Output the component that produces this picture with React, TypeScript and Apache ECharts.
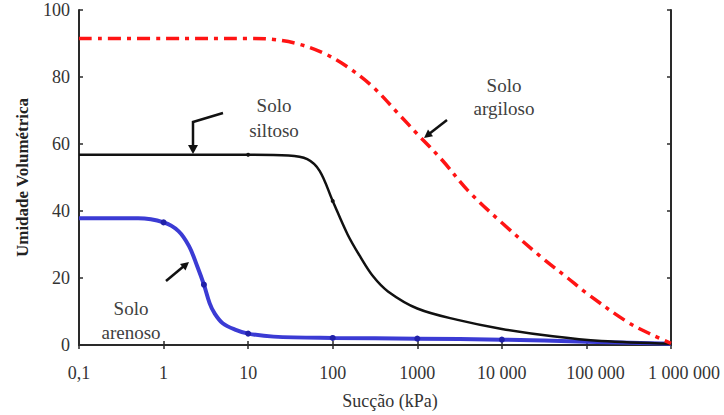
import React, { useEffect, useRef } from "react";
import * as echarts from "echarts";

const xTickLabels: Record<string, string> = {
  "-1": "0,1",
  "0": "1",
  "1": "10",
  "2": "100",
  "3": "1000",
  "4": "10 000",
  "5": "100 000",
  "6": "1 000 000",
};
const yTicks = [0, 20, 40, 60, 80, 100];

// Solo argiloso (red dash-dot)
const argilosoX = [0.1, 1, 10, 20, 40, 80, 150, 300, 600, 1000, 2000, 4000, 10000, 30000, 60000, 100000, 300000, 600000, 1000000];
const argilosoY = [91.5, 91.5, 91.5, 91.2, 89.8, 87, 83, 77, 69, 63, 55, 46, 36.5, 26, 20, 15.5, 7, 3, 0.5];

// Solo siltoso (black)
const siltosoX = [0.1, 1, 10, 30, 50, 70, 100, 150, 210, 300, 450, 1000, 3000, 10000, 40000, 150000, 1000000];
const siltosoY = [56.8, 56.8, 56.8, 56.6, 55.5, 52, 43, 33, 26.5, 20.5, 16, 10.9, 7.5, 4.8, 2.6, 1.2, 0.4];

// Solo arenoso (blue)
const arenosoX = [0.1, 0.5, 1, 1.5, 2, 2.5, 3, 3.5, 4, 5, 7, 10, 20, 100, 1000, 10000, 100000, 1000000];
const arenosoY = [37.8, 37.8, 36.6, 34, 29.5, 23.5, 18, 12.5, 9.5, 6.5, 4.6, 3.4, 2.5, 2.1, 1.9, 1.6, 1.0, 0.4];
const arenosoMarked = [1, 3, 10, 100, 1000, 10000];
const siltosoMarked = [10, 100];

const serif = "Liberation Serif";

export default function App() {
  const ref = useRef<HTMLDivElement>(null);
  useEffect(() => {
    if (!ref.current) return;
    const chart = echarts.init(ref.current, null, { renderer: "svg" });

    const mk = (xs: number[], ys: number[], marked: number[], color: string, size: number) =>
      xs.map((x, i) =>
        marked.indexOf(x) >= 0
          ? { value: [x, ys[i]], symbol: "circle", symbolSize: size, itemStyle: { color } }
          : { value: [x, ys[i]], symbol: "none" }
      );

    const axisLineStyle = { color: "#2a2a2a", width: 2 };
    const tick = { show: true, inside: true, length: 4, lineStyle: { color: "#2a2a2a", width: 1.5 } };

    const txt = (x: number, y: number, s: string) => ({
      type: "text",
      x,
      y,
      style: {
        text: s,
        fill: "#404040",
        fontFamily: serif,
        fontSize: 19,
        align: "center",
        verticalAlign: "middle",
      },
      z: 100,
    });
    const stroke = { stroke: "#111", lineWidth: 2.5, fill: "none" };
    const head = { fill: "#111" };

    chart.setOption({
      animation: false,
      backgroundColor: "#ffffff",
      textStyle: { fontFamily: serif },
      grid: { left: 79, right: 53, top: 10, bottom: 66, containLabel: false },
      xAxis: [
        {
          type: "log",
          logBase: 10,
          min: 0.1,
          max: 1000000,
          interval: 1,
          position: "bottom",
          axisLine: { show: true, lineStyle: axisLineStyle },
          axisTick: tick,
          splitLine: { show: false },
          minorTick: { show: false },
          axisLabel: {
            margin: 19,
            fontFamily: serif,
            fontSize: 18,
            color: "#333",
            formatter: (v: number) => {
              const e = String(Math.round(Math.log10(v)));
              const t = xTickLabels[e] ?? "";
              if (e === "5") return `{a|${t}}`;
              if (e === "6") return `{b|${t}}`;
              return t;
            },
            rich: {
              a: { fontFamily: serif, fontSize: 18, color: "#333", padding: [0, 0, 0, 18] },
              b: { fontFamily: serif, fontSize: 18, color: "#333", padding: [0, 0, 0, 26] },
            },
          },
          name: "Sucção (kPa)",
          nameLocation: "middle",
          nameGap: 47,
          nameTextStyle: { fontFamily: serif, fontSize: 18, color: "#333", padding: [0, 0, 0, 30] },
        },
        {
          type: "log",
          logBase: 10,
          min: 0.1,
          max: 1000000,
          interval: 1,
          position: "top",
          axisLine: { show: true, lineStyle: axisLineStyle },
          axisTick: tick,
          axisLabel: { show: false },
          splitLine: { show: false },
        },
      ],
      yAxis: [
        {
          type: "value",
          min: yTicks[0],
          max: yTicks[yTicks.length - 1],
          interval: 20,
          position: "left",
          axisLine: { show: true, lineStyle: axisLineStyle },
          axisTick: tick,
          splitLine: { show: false },
          axisLabel: { margin: 9, fontFamily: serif, fontSize: 18, color: "#333" },
          name: "Umidade Volumétrica",
          nameLocation: "middle",
          nameGap: 48,
          nameTextStyle: { fontFamily: serif, fontSize: 17, fontWeight: "bold", color: "#222" },
        },
        {
          type: "value",
          min: yTicks[0],
          max: yTicks[yTicks.length - 1],
          interval: 20,
          position: "right",
          axisLine: { show: true, lineStyle: axisLineStyle },
          axisTick: tick,
          axisLabel: { show: false },
          splitLine: { show: false },
        },
      ],
      series: [
        {
          type: "line",
          name: "Solo arenoso",
          smooth: 0.35,
          symbol: "none",
          data: mk(arenosoX, arenosoY, arenosoMarked, "#2020a8", 6),
          lineStyle: { color: "#3b3bd4", width: 4 },
          z: 3,
        },
        {
          type: "line",
          name: "Solo siltoso",
          smooth: 0.35,
          symbol: "none",
          data: mk(siltosoX, siltosoY, siltosoMarked, "#111", 4),
          lineStyle: { color: "#111", width: 2.5 },
          z: 4,
        },
        {
          type: "line",
          name: "Solo argiloso",
          smooth: 0.35,
          symbol: "none",
          data: argilosoX.map((x, i) => [x, argilosoY[i]]),
          lineStyle: { color: "#ff1414", width: 3.5, type: [13, 6, 4, 6] },
          z: 5,
        },
      ],
      graphic: [
        txt(274, 105, "Solo"),
        txt(274, 130, "siltoso"),
        txt(504, 85, "Solo"),
        txt(504, 108, "argiloso"),
        txt(131, 308, "Solo"),
        txt(131, 332, "arenoso"),
        { type: "polyline", shape: { points: [[223, 113], [193, 122], [193, 146]] }, style: stroke, z: 100 },
        { type: "polygon", shape: { points: [[188, 145], [198, 145], [193, 154]] }, style: head, z: 100 },
        { type: "line", shape: { x1: 447, y1: 120, x2: 429, y2: 134 }, style: stroke, z: 100 },
        { type: "polygon", shape: { points: [[424, 138], [433, 136.2], [428, 129.5]] }, style: head, z: 100 },
        { type: "line", shape: { x1: 166, y1: 281, x2: 184, y2: 266 }, style: stroke, z: 100 },
        { type: "polygon", shape: { points: [[189, 262], [185.5, 270.5], [180, 264]] }, style: head, z: 100 },
      ],
    });
    return () => chart.dispose();
  }, []);
  return (
    <div
      ref={ref}
      style={{ position: "fixed", left: 0, top: 0, width: 724, height: 415, background: "#fff" }}
    />
  );
}
